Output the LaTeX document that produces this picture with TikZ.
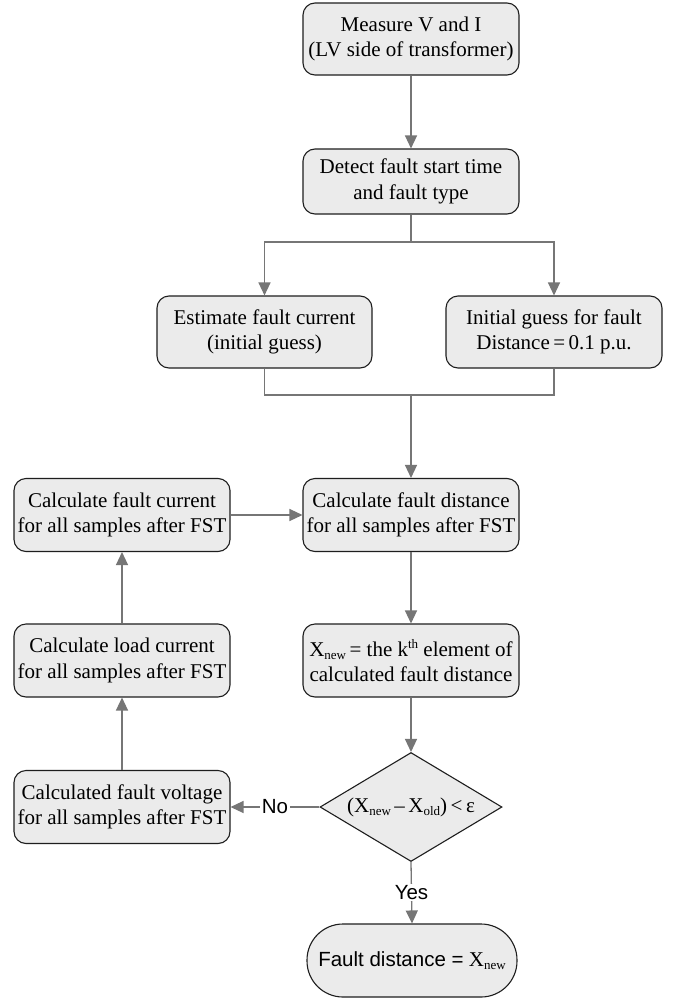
\documentclass[tikz,border=0pt]{standalone}
\usepackage{fontspec}
\setmainfont{Liberation Serif}
\newfontfamily\arialf{Liberation Sans}
\usetikzlibrary{shapes.geometric,arrows.meta}
\definecolor{boxgray}{RGB}{235,235,235}
\definecolor{linegray}{RGB}{118,118,118}
\definecolor{edgeblack}{RGB}{30,30,30}
\newcommand{\mysub}[1]{\raisebox{-0.35ex}{\fontsize{13}{13}\selectfont #1}}
\newcommand{\mysup}[1]{\raisebox{0.85ex}{\fontsize{13}{13}\selectfont #1}}
\begin{document}
\begin{tikzpicture}[x=1pt,y=-1pt,
  box/.style={draw=edgeblack, line width=1.1pt, fill=boxgray, rounded corners=12pt,
    minimum width=216pt, minimum height=73pt, align=center,
    font=\fontsize{21}{25.5}\selectfont, inner sep=0pt},
  conn/.style={draw=linegray, line width=1.3pt},
  arr/.style={conn, -{Triangle[length=13pt,width=12pt]}},
  lab/.style={font=\arialf\fontsize{20.5}{24}\selectfont, fill=white, inner sep=1.5pt, text=black}
]
\useasboundingbox (0,0) rectangle (680,1001);
\fill[white] (0,0) rectangle (680,1001);

\node[box, minimum height=72pt] (m1) at (411,39) {Measure V and I\\(LV side of transformer)};
\node[box, minimum height=65pt] (m2) at (411,181.5) {Detect fault start time\\and fault type};
\node[box, minimum width=215pt, minimum height=72pt] (b3) at (264.5,332) {Estimate fault current\\(initial guess)};
\node[box, minimum height=72pt] (b4) at (554,332) {Initial guess for fault\\Distance\,=\,0.1 p.u.};
\node[box] (b5) at (411,515) {Calculate fault distance\\for all samples after FST};
\node[box] (L1) at (122,515) {Calculate fault current\\for all samples after FST};
\node[box] (b6) at (411,660.5) {X\mysub{new}\,= the k\mysup{th} element of\\calculated fault distance};
\node[box] (L2) at (122,660.5) {Calculate load current\\for all samples after FST};
\node[draw=edgeblack, line width=1.1pt, fill=boxgray, shape=diamond, aspect=1.67,
  minimum width=182pt, minimum height=109pt, inner sep=0pt,
  font=\fontsize{21}{25.5}\selectfont] (dec) at (411,807) {(X\mysub{new}\,--\,X\mysub{old})\,<\,ε};
\node[box] (L3) at (122,807) {Calculated fault voltage\\for all samples after FST};
\node[box, rounded corners=36pt, minimum width=210pt, minimum height=73pt] (term) at (412,960.5)
  {{\arialf\fontsize{20.5}{24}\selectfont Fault distance =} X\mysub{new}};

\coordinate (sp) at (411,242);
\coordinate (mg) at (411,395);

\draw[arr] (m1) -- (m2);
\draw[conn] (m2.south) -- (sp);
\draw[arr] (sp) -| (b3.north);
\draw[arr] (sp) -| (b4.north);
\draw[conn] (b3.south) |- (mg);
\draw[conn] (b4.south) |- (mg);
\draw[arr] (mg) -- (b5.north);
\draw[arr] (L1) -- (b5);
\draw[arr] (b5) -- (b6);
\draw[arr] (b6) -- (dec);
\draw[arr] (dec.west) -- node[lab] {No} (L3.east);
\draw[arr] (dec.south) -- node[lab] {Yes} (term.north);
\draw[arr] (L3) -- (L2);
\draw[arr] (L2) -- (L1);
\end{tikzpicture}
\end{document}
